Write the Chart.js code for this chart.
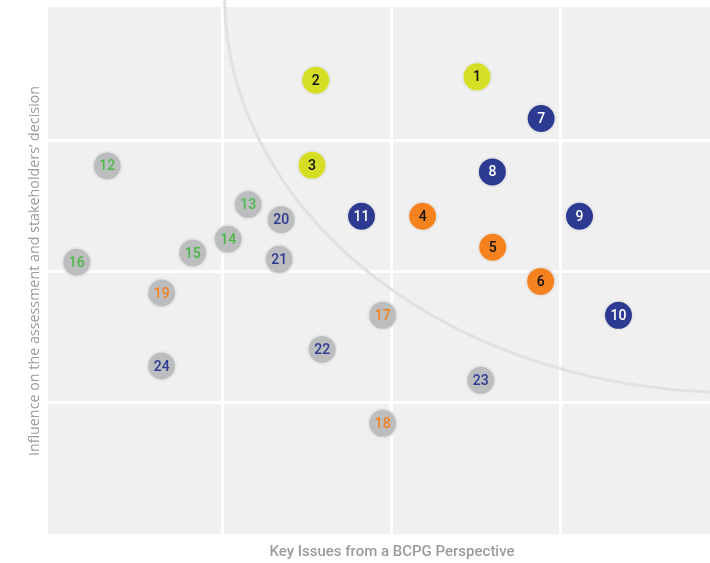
<!DOCTYPE html>
<html>
<head>
<meta charset="utf-8">
<script src="https://cdn.jsdelivr.net/npm/chart.js@4"></script>
<style>
  html, body { margin: 0; padding: 0; background: #fff; }
  #wrap { width: 710px; height: 563px; }
</style>
</head>
<body>
<div id="wrap"><canvas id="matrix"></canvas></div>
<script>
// issues (x = BCPG perspective, y = stakeholder influence)
const issueIds = ["1","2","3","4","5","6","7","8","9","10","11","12","13","14","15","16","17","18","19","20","21","22","23","24"];
const issueX = [2.505, 1.550, 1.528, 2.183, 2.598, 2.882, 2.885, 2.596, 3.112, 3.343, 1.821, 0.315, 1.150, 1.031, 0.821, 0.134, 1.946, 1.946, 0.637, 1.345, 1.333, 1.588, 2.527, 0.637];
const issueY = [3.487, 3.462, 2.813, 2.424, 2.187, 1.927, 3.169, 2.762, 2.424, 1.668, 2.424, 2.808, 2.513, 2.248, 2.143, 2.073, 1.668, 0.844, 1.838, 2.398, 2.095, 1.408, 1.172, 1.281];
const issueTheme = ["A","A","A","B","B","B","C","C","C","C","C","D","D","D","D","D","B","B","B","C","C","C","C","C"];
const issueKey = [true,true,true,true,true,true,true,true,true,true,true,false,false,false,false,false,false,false,false,false,false,false,false,false];
const gridTicks = [1, 2, 3];

const xTitle = "Key Issues from a BCPG Perspective";
const yTitle = "Influence on the assessment and stakeholders\u2019 decision";

// colours per theme
const themeFill = { A: "#d5de24", B: "#f5821f", C: "#2c3a91", D: "#4cb84a" };
const keyText = { A: "#111111", B: "#111111", C: "#ffffff", D: "#ffffff" };
const otherText = { A: "#4cb84a", B: "#f5821f", C: "#2c3a91", D: "#4cb84a" };
const greyFill = "#bcbdbf";

const fills = issueTheme.map((t, i) => issueKey[i] ? themeFill[t] : greyFill);
const textColors = issueTheme.map((t, i) => issueKey[i] ? keyText[t] : otherText[t]);

const points = issueIds.map((id, i) => ({ x: issueX[i], y: issueY[i] }));

// background, arc and axis titles
const matrixDeco = {
  id: "matrixDeco",
  beforeDraw(chart) {
    const { ctx, chartArea: a } = chart;
    ctx.save();
    ctx.fillStyle = "#f0f0f0";
    ctx.fillRect(a.left, a.top, a.right - a.left, a.bottom - a.top);
    ctx.restore();
  },
  beforeDatasetsDraw(chart) {
    const { ctx } = chart;
    const xs = chart.scales.x, ys = chart.scales.y;
    const cx = xs.getPixelForValue(4.03), cy = ys.getPixelForValue(4.1);
    const rx = xs.getPixelForValue(4.03) - xs.getPixelForValue(4.03 - 3.02);
    const ry = ys.getPixelForValue(4.1 - 3.02) - cy;
    ctx.save();
    ctx.strokeStyle = "#e1e1e3";
    ctx.lineWidth = 3;
    ctx.beginPath();
    ctx.ellipse(cx, cy, rx, ry, 0, Math.PI / 2, Math.PI);
    ctx.stroke();
    ctx.restore();
  },
  afterDatasetsDraw(chart) {
    const { ctx } = chart;
    const meta = chart.getDatasetMeta(0);
    ctx.save();
    ctx.font = "500 14px Roboto";
    ctx.textAlign = "center";
    ctx.textBaseline = "middle";
    meta.data.forEach((pt, i) => {
      ctx.fillStyle = textColors[i];
      ctx.fillText(issueIds[i], pt.x, pt.y + 1);
    });
    ctx.restore();
  },
  afterDraw(chart) {
    const { ctx } = chart;
    ctx.save();
    ctx.fillStyle = "#9b9b9b";
    ctx.textAlign = "center";
    ctx.textBaseline = "middle";
    ctx.font = "500 15px Roboto";
    ctx.fillText(xTitle, 392, 552);
    ctx.translate(35, 271);
    ctx.rotate(-Math.PI / 2);
    ctx.font = "14.3px 'Open Sans'";
    ctx.fillText(yTitle, 0, 0);
    ctx.restore();
  }
};

new Chart(document.getElementById("matrix"), {
  type: "scatter",
  data: {
    datasets: [{
      label: "Issues",
      data: points,
      backgroundColor: fills,
      borderColor: "#e7e7e8",
      borderWidth: 2,
      pointRadius: 14.5,
      pointHoverRadius: 14.5
    }]
  },
  options: {
    responsive: true,
    maintainAspectRatio: false,
    animation: false,
    layout: { autoPadding: false, padding: { left: 48, right: 0, top: 7, bottom: 29 } },
    plugins: {
      legend: { display: false },
      tooltip: { enabled: false }
    },
    scales: {
      x: {
        type: "linear",
        min: -0.036,
        max: 3.885,
        afterBuildTicks: (s) => { s.ticks = gridTicks.map(v => ({ value: v })); },
        ticks: { display: false },
        grid: { color: "#ffffff", lineWidth: 3, drawTicks: false },
        border: { display: false }
      },
      y: {
        type: "linear",
        min: 0,
        max: 4.02,
        afterBuildTicks: (s) => { s.ticks = gridTicks.map(v => ({ value: v })); },
        ticks: { display: false },
        grid: { color: "#ffffff", lineWidth: 3, drawTicks: false },
        border: { display: false }
      }
    }
  },
  plugins: [matrixDeco]
});
</script>
</body>
</html>
